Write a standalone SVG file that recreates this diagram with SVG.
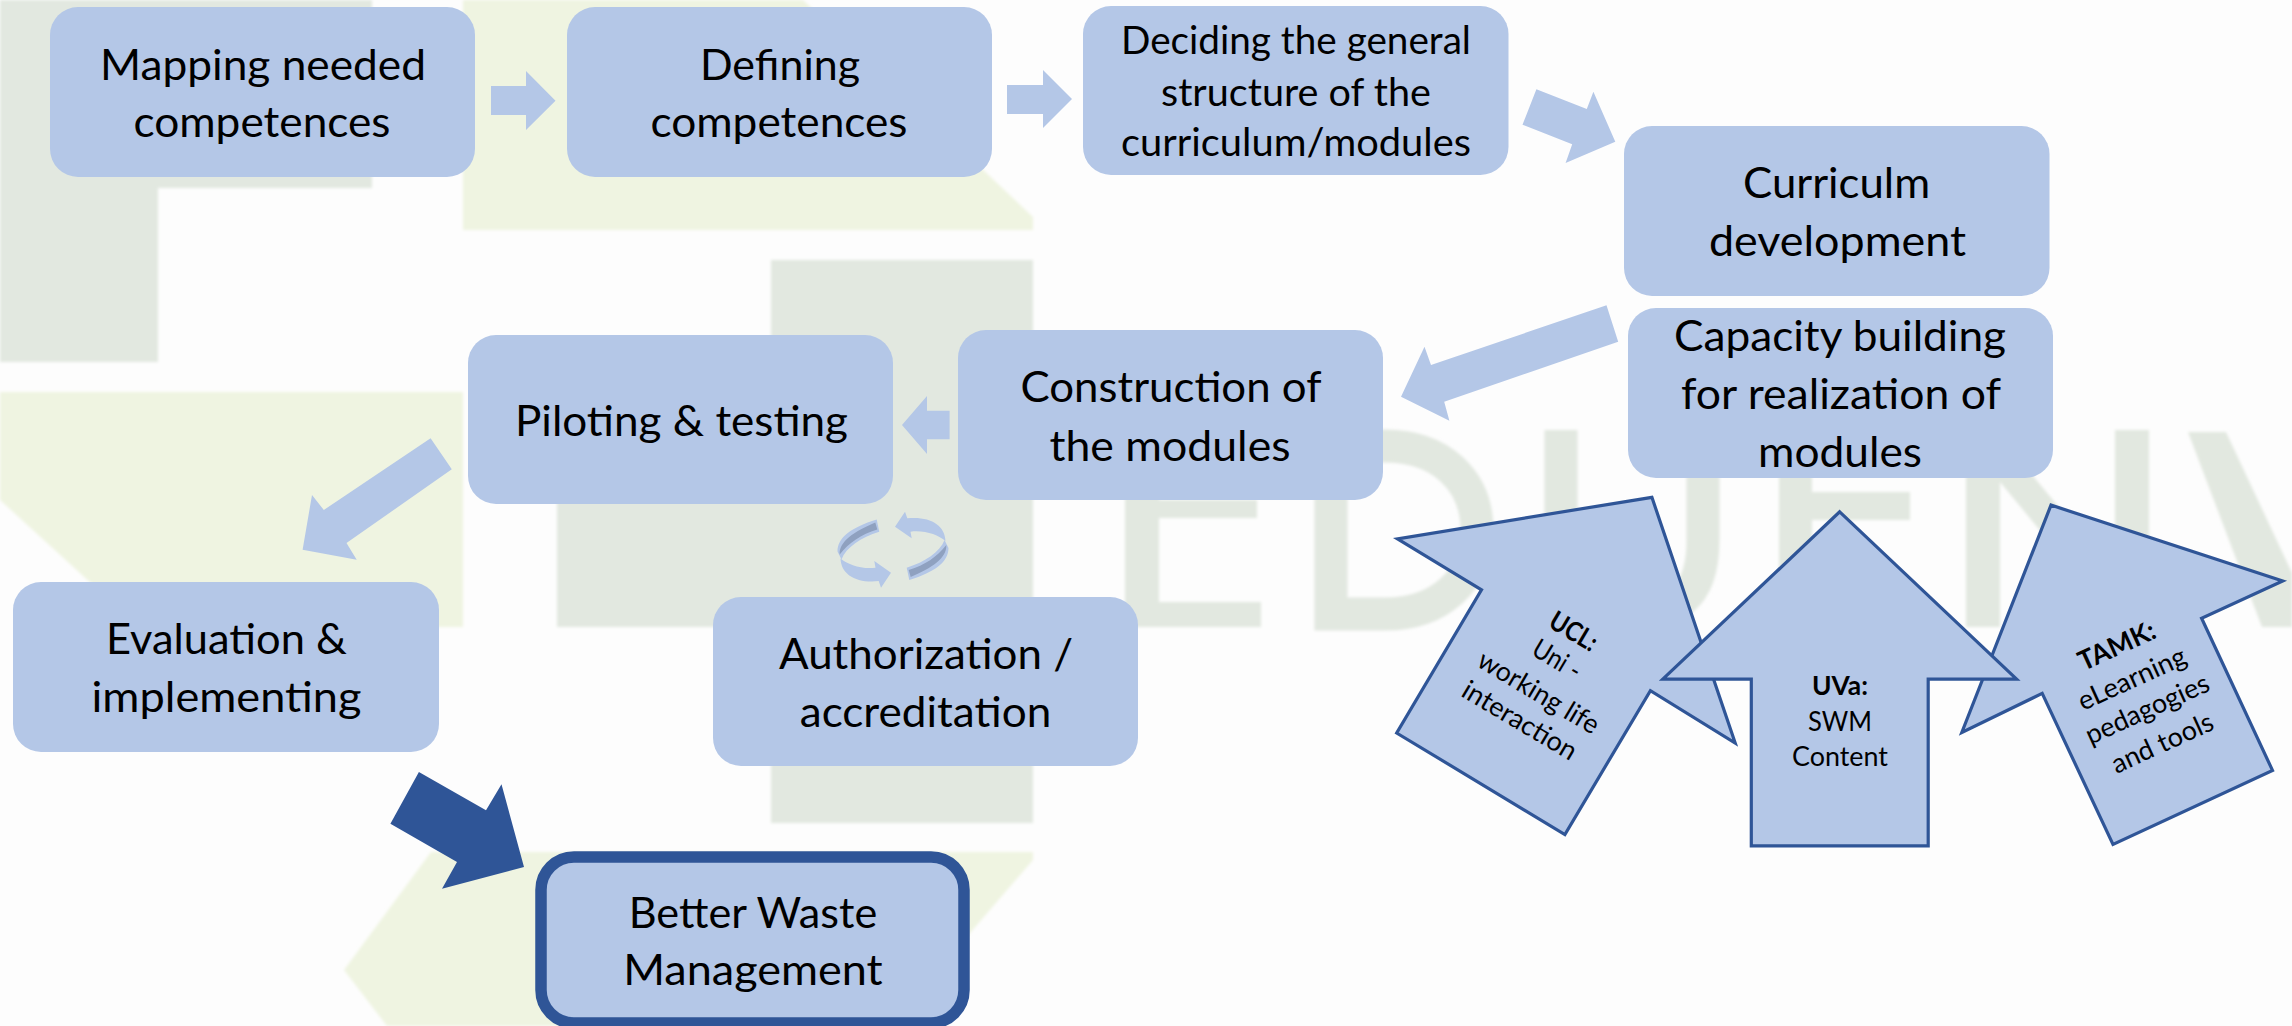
<svg xmlns="http://www.w3.org/2000/svg" width="2292" height="1026" viewBox="0 0 2292 1026">
<style>
.box{fill:#b4c7e7}
.arr{fill:#b4c7e7}
.big{fill:#b4c7e7;stroke:#2f5597;stroke-width:3.2;stroke-linejoin:miter}
.wg{fill:#e2e8e0}
.wy{fill:#eff4e1}
.ws{fill:none;stroke:#e2e8e0;stroke-width:33}
text{font-family:Lato,"Noto Sans","Liberation Sans",sans-serif;fill:#000;text-anchor:middle}
.t{font-size:43px}
.m{font-size:39px}
.s{font-size:27px}
.b{font-weight:700}
</style>
<defs>
<filter id="soft" x="-2%" y="-2%" width="104%" height="104%"><feGaussianBlur stdDeviation="1.6"/></filter>
<g id="half">
<path d="M895,526.7L905,511.7L907.3,518.3C930,516 945,525 945.5,541C938,535 925,530 910.5,531.7L911.7,538.3Z" fill="#b4c7e7"/>
<path d="M906.7,567.7C925,562 940,552 944.5,540L948.5,548C948.5,562 935,572 909.3,580Z" fill="#b4c7e7"/>
<path d="M908.7,570C925,565 937,557 946.3,545C947,558 932,568 910.7,577Z" fill="#8fa1c0"/>
</g>
</defs>
<rect width="2292" height="1026" fill="#fdfdfd"/>
<g id="watermark" filter="url(#soft)">
<polygon class="wg" points="0,0 372,0 372,188 158,188 158,362 0,362"/>
<polygon class="wy" points="463,0 803,0 1033,217 1033,230 463,230"/>
<polygon class="wy" points="0,392 463,392 463,627 139,627 0,500"/>
<polygon class="wg" points="771,260 1033,260 1033,823 771,823 771,627 557,627 557,420 771,420"/>
<polygon class="wy" points="431,852 1033,852 1033,860 890,1026 387,1026 344,970"/>
<path class="wg" d="M1125,430H1262V456H1159V500H1257V518H1159V602H1261V627H1125Z"/>
<path class="ws" d="M1331,446H1385C1440,446 1477,480 1477,530C1477,580 1440,614 1385,614H1331Z"/>
<path class="ws" d="M1561,430V540C1561,600 1590,612 1632,612C1674,612 1703,600 1703,540V430"/>
<path class="wg" d="M1779,430H1915V458H1812V492H1910V520H1812V602H1915V627H1779Z"/>
<path class="wg" d="M1966,627V430H1995L2115,575V430H2149V627H2120L2000,482V627Z"/>
<polygon class="wg" points="2188,432 2226,432 2292,573 2292,627 2262,627"/>
</g>
<g id="connectors">
<polygon class="arr" points="491,86 526,86 526,71 555.5,100.7 526,130 526,115 491,115"/>
<polygon class="arr" points="1007,85 1043,85 1043,70 1072,99 1043,128 1043,114 1007,114"/>
<polygon class="arr" points="1536.4,89.3 1586.8,109 1593.4,91.7 1615.3,141.7 1565.6,163 1572.2,144.3 1522.5,124.7"/>
<polygon class="arr" points="1606.5,305.3 1618.2,341.7 1444.2,401.7 1449.4,420.7 1401,396.7 1424.5,346.7 1431,365"/>
<polygon class="arr" points="949.6,410.7 927,410.7 927,396 902,425 927,454 927,439.3 949.6,439.3"/>
<polygon class="arr" points="430.6,438.3 451.8,469.3 346.5,543 356.7,559.7 302.6,549.7 312,495 323.8,510"/>
<polygon points="418.9,772 486,810.3 501.5,784.3 524,867 442,888.7 457,862 390.4,823.7" fill="#2f5597"/>
</g>
<g id="n-mapping"><rect class="box" x="50" y="7" width="425" height="170" rx="28"/>
<text class="t" x="263" y="80" textLength="326" lengthAdjust="spacingAndGlyphs">Mapping needed</text>
<text class="t" x="262" y="136.700" textLength="257" lengthAdjust="spacingAndGlyphs">competences</text></g>
<g id="n-defining"><rect class="box" x="567" y="7" width="425" height="170" rx="28"/>
<text class="t" x="780" y="80" textLength="160" lengthAdjust="spacingAndGlyphs">Defining</text>
<text class="t" x="779" y="136.700" textLength="257" lengthAdjust="spacingAndGlyphs">competences</text></g>
<g id="n-deciding"><rect class="box" x="1083" y="6" width="425.500" height="169" rx="28"/>
<text class="m" x="1296" y="53.500" textLength="350" lengthAdjust="spacingAndGlyphs">Deciding the general</text>
<text class="m" x="1296" y="105.500" textLength="270" lengthAdjust="spacingAndGlyphs">structure of the</text>
<text class="m" x="1296" y="156.200" textLength="350" lengthAdjust="spacingAndGlyphs">curriculum/modules</text></g>
<g id="n-curriculum"><rect class="box" x="1624" y="126" width="425.500" height="170" rx="28"/>
<text class="t" x="1836.600" y="198" textLength="187" lengthAdjust="spacingAndGlyphs">Curriculm</text>
<text class="t" x="1837.500" y="256.400" textLength="257" lengthAdjust="spacingAndGlyphs">development</text></g>
<g id="n-capacity"><rect class="box" x="1628" y="308" width="425" height="170" rx="28"/>
<text class="t" x="1840" y="351.400" textLength="332" lengthAdjust="spacingAndGlyphs">Capacity building</text>
<text class="t" x="1841" y="409" textLength="320" lengthAdjust="spacingAndGlyphs">for realization of</text>
<text class="t" x="1840" y="466.700" textLength="164" lengthAdjust="spacingAndGlyphs">modules</text></g>
<g id="n-construction"><rect class="box" x="958" y="330" width="425" height="170" rx="28"/>
<text class="t" x="1171" y="402.400" textLength="301" lengthAdjust="spacingAndGlyphs">Construction of</text>
<text class="t" x="1170" y="460.700" textLength="241" lengthAdjust="spacingAndGlyphs">the modules</text></g>
<g id="n-piloting"><rect class="box" x="468" y="335" width="425" height="169" rx="28"/>
<text class="t" x="681.500" y="435.700" textLength="333" lengthAdjust="spacingAndGlyphs">Piloting &amp; testing</text></g>
<g id="n-evaluation"><rect class="box" x="13" y="582" width="426" height="170" rx="28"/>
<text class="t" x="226.500" y="653.700" textLength="241" lengthAdjust="spacingAndGlyphs">Evaluation &amp;</text>
<text class="t" x="226.500" y="712" textLength="270" lengthAdjust="spacingAndGlyphs">implementing</text></g>
<g id="n-authorization"><rect class="box" x="713" y="597" width="425" height="169" rx="28"/>
<text class="t" x="926" y="668.700" textLength="294" lengthAdjust="spacingAndGlyphs">Authorization /</text>
<text class="t" x="925.500" y="727" textLength="251.500" lengthAdjust="spacingAndGlyphs">accreditation</text></g>
<g id="n-better"><rect class="box" x="541" y="857" width="423" height="166" rx="33" stroke="#2f5597" stroke-width="11.500"/>
<text class="t" x="753" y="928" textLength="248.500" lengthAdjust="spacingAndGlyphs">Better Waste</text>
<text class="t" x="753" y="985.400" textLength="259.500" lengthAdjust="spacingAndGlyphs">Management</text></g>
<g id="n-cycle"><use href="#half"/><use href="#half" transform="rotate(180 893 549.700)"/></g>
<g id="n-ucl"><polygon class="big" points="1651.900,497.300 1735.200,743 1650.400,690.600 1564.900,834.500 1396.700,733 1481.500,589.900 1397.500,538.800"/>
<text class="s b" transform="translate(1569,639.300) rotate(30.700)" textLength="51" lengthAdjust="spacingAndGlyphs">UCL:</text>
<text class="s" transform="translate(1552.300,667.300) rotate(30.700)" textLength="52" lengthAdjust="spacingAndGlyphs">Uni -</text>
<text class="s" transform="translate(1534,700.300) rotate(30.700)" textLength="136" lengthAdjust="spacingAndGlyphs">working life</text>
<text class="s" transform="translate(1515,728.300) rotate(30.700)" textLength="128.600" lengthAdjust="spacingAndGlyphs">interaction</text></g>
<g id="n-tamk"><polygon class="big" points="2051,505.100 2282.700,581 2201.600,618.200 2272.500,770.400 2113,844.500 2042.200,693.400 1961.800,732.400"/>
<text class="s b" transform="translate(2120.700,654.300) rotate(-24.500)" textLength="82" lengthAdjust="spacingAndGlyphs">TAMK:</text>
<text class="s" transform="translate(2135.700,687) rotate(-24.500)" textLength="116" lengthAdjust="spacingAndGlyphs">eLearning</text>
<text class="s" transform="translate(2151,717.400) rotate(-24.500)" textLength="133" lengthAdjust="spacingAndGlyphs">pedagogies</text>
<text class="s" transform="translate(2166,751.300) rotate(-24.500)" textLength="109" lengthAdjust="spacingAndGlyphs">and tools</text></g>
<g id="n-uva"><polygon class="big" points="1839.700,511.800 2016.600,679.200 1928.200,679.200 1928.200,845.900 1751.300,845.900 1751.300,679.200 1662.800,679.200"/>
<text class="s b" x="1840" y="694.800" textLength="56" lengthAdjust="spacingAndGlyphs">UVa:</text>
<text class="s" x="1840" y="730.600" textLength="64" lengthAdjust="spacingAndGlyphs">SWM</text>
<text class="s" x="1840" y="766" textLength="96" lengthAdjust="spacingAndGlyphs">Content</text></g>
</svg>
